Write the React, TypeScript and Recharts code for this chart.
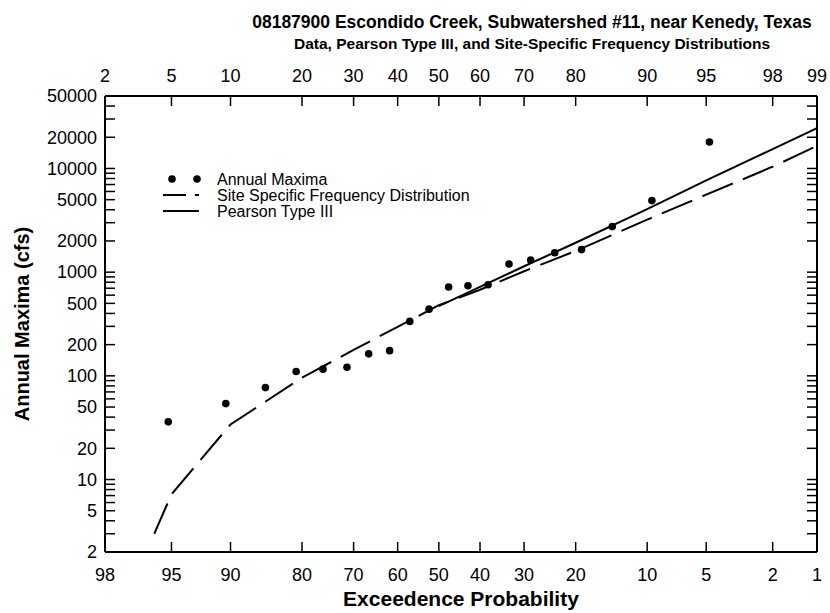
import { ComposedChart, Legend, Line, Scatter, XAxis, YAxis } from "recharts";

// annual maxima, Weibull plotting positions m/(n+1), percent exceedance
const DATA_EXC = [95.2, 90.5, 85.7, 81.0, 76.2, 71.4, 66.7, 61.9, 57.1, 52.4, 47.6, 42.9, 38.1, 33.3, 28.6, 23.8, 19.0, 14.3, 9.5, 4.8];
const DATA_Q = [36, 54, 77, 110, 116, 121, 163, 175, 335, 440, 720, 740, 755, 1200, 1310, 1540, 1650, 2750, 4900, 18000];

// site specific frequency distribution
const SSFD_EXC = [96, 95, 90, 80, 70, 60, 50, 40, 30, 20, 10, 5, 2, 1];
const SSFD_Q = [3, 7.2, 34, 96, 178, 297, 480, 676, 1020, 1600, 3210, 5590, 10400, 16500];

// pearson type III
const P3_EXC = [50, 40, 30, 20, 10, 5, 2, 1];
const P3_Q = [470, 720, 1140, 1920, 4050, 7670, 15400, 24500];

const BOTTOM_TICKS = [98, 95, 90, 80, 70, 60, 50, 40, 30, 20, 10, 5, 2, 1];
const TOP_TICKS = [2, 5, 10, 20, 30, 40, 50, 60, 70, 80, 90, 95, 98, 99];
const Y_TICKS = [
  2, 3, 4, 5, 6, 7, 8, 9, 10, 20, 30, 40, 50, 60, 70, 80, 90, 100, 200, 300, 400, 500, 600, 700, 800, 900,
  1000, 2000, 3000, 4000, 5000, 6000, 7000, 8000, 9000, 10000, 20000, 30000, 40000, 50000,
];
const Y_LABELS = [2, 5, 10, 20, 50, 100, 200, 500, 1000, 2000, 5000, 10000, 20000, 50000];

const FONT = "'Liberation Sans', Arial, Helvetica, sans-serif";
const TICK_LEN = 10;

// inverse standard normal (Acklam) for the probability axis
function normInv(p: number): number {
  const a = [-39.69683028665376, 220.9460984245205, -275.9285104469687, 138.357751867269, -30.66479806614716, 2.506628277459239];
  const b = [-54.47609879822406, 161.5858368580409, -155.6989798598866, 66.80131188771972, -13.28068155288572];
  const c = [-0.007784894002430293, -0.3223964580411365, -2.400758277161838, -2.549732539343734, 4.374664141464968, 2.938163982698783];
  const d = [0.007784695709041462, 0.3224671290700398, 2.445134137142996, 3.754408661907416];
  const lo = 0.02425;
  if (p < lo) {
    const q = Math.sqrt(-2 * Math.log(p));
    return (((((c[0] * q + c[1]) * q + c[2]) * q + c[3]) * q + c[4]) * q + c[5]) / ((((d[0] * q + d[1]) * q + d[2]) * q + d[3]) * q + 1);
  }
  if (p > 1 - lo) {
    const q = Math.sqrt(-2 * Math.log(1 - p));
    return -(((((c[0] * q + c[1]) * q + c[2]) * q + c[3]) * q + c[4]) * q + c[5]) / ((((d[0] * q + d[1]) * q + d[2]) * q + d[3]) * q + 1);
  }
  const q = p - 0.5;
  const r = q * q;
  return ((((((a[0] * r + a[1]) * r + a[2]) * r + a[3]) * r + a[4]) * r + a[5]) * q) / (((((b[0] * r + b[1]) * r + b[2]) * r + b[3]) * r + b[4]) * r + 1);
}
const excToZ = (pct: number) => normInv(1 - pct / 100);

const maxima = DATA_EXC.map((p, i) => ({ z: excToZ(p), q: DATA_Q[i] }));
const ssfd = SSFD_EXC.map((p, i) => ({ z: excToZ(p), q: SSFD_Q[i] }));
const p3 = P3_EXC.map((p, i) => ({ z: excToZ(p), q: P3_Q[i] }));

const X_DOMAIN = [excToZ(98), excToZ(1)];
const bottomZ = BOTTOM_TICKS.map((p) => excToZ(p));
const topZ = TOP_TICKS.map((p) => excToZ(100 - p));

const nearest = (list: number[], zs: number[], v: number) => {
  let best = 0;
  zs.forEach((z, i) => {
    if (Math.abs(z - v) < Math.abs(zs[best] - v)) best = i;
  });
  return list[best];
};

const tickText = { fontSize: 18, fontFamily: FONT, fill: "#000" };

const BottomTick = ({ x, y, payload }: any) => (
  <g>
    <line x1={x} y1={y} x2={x} y2={y - TICK_LEN} stroke="#000" strokeWidth={1.5} />
    <text x={x} y={y + 23} dy="0.35em" textAnchor="middle" {...tickText}>
      {nearest(BOTTOM_TICKS, bottomZ, payload.value)}
    </text>
  </g>
);

const TopTick = ({ x, y, payload }: any) => (
  <g>
    <line x1={x} y1={y} x2={x} y2={y + TICK_LEN} stroke="#000" strokeWidth={1.5} />
    <text x={x} y={y - 20} dy="0.35em" textAnchor="middle" {...tickText}>
      {nearest(TOP_TICKS, topZ, payload.value)}
    </text>
  </g>
);

const LeftTick = ({ x, y, payload }: any) => (
  <g>
    <line x1={x} y1={y} x2={x + TICK_LEN} y2={y} stroke="#000" strokeWidth={1.5} />
    {Y_LABELS.includes(payload.value) && (
      <text x={x - 8} y={y} dy="0.35em" textAnchor="end" {...tickText}>
        {payload.value}
      </text>
    )}
  </g>
);

const RightTick = ({ x, y }: any) => (
  <line x1={x} y1={y} x2={x - TICK_LEN} y2={y} stroke="#000" strokeWidth={1.5} />
);

const Dot = ({ cx, cy }: any) => <circle cx={cx} cy={cy} r={3.8} fill="#000" />;

const LegendBox = () => (
  <svg width={340} height={54} style={{ display: "block" }}>
    <circle cx={22} cy={11} r={3.8} fill="#000" />
    <circle cx={47} cy={11} r={3.8} fill="#000" />
    <line x1={13} y1={27} x2={36} y2={27} stroke="#000" strokeWidth={2} />
    <line x1={45} y1={27} x2={49} y2={27} stroke="#000" strokeWidth={2} />
    <line x1={13} y1={43} x2={49} y2={43} stroke="#000" strokeWidth={2} />
    <g fontFamily={FONT} fontSize={16} fill="#000">
      <text x={67} y={11} dy="0.35em">Annual Maxima</text>
      <text x={67} y={27} dy="0.35em">Site Specific Frequency Distribution</text>
      <text x={67} y={43} dy="0.35em">Pearson Type III</text>
    </g>
  </svg>
);

export default function App() {
  return (
    <div style={{ position: "absolute", left: 0, top: 0, width: 830, height: 613, background: "#fff" }}>
      <ComposedChart width={830} height={613} margin={{ top: 0, right: 0, bottom: 0, left: 0 }}>
        <XAxis
          xAxisId="bottom"
          type="number"
          dataKey="z"
          domain={X_DOMAIN}
          allowDataOverflow
          ticks={bottomZ}
          interval={0}
          height={61}
          tickSize={0}
          tickMargin={0}
          tick={<BottomTick />}
          axisLine={{ stroke: "#000", strokeWidth: 2 }}
          label={{ value: "Exceedence Probability", position: "insideBottom", offset: 7, style: { fontSize: 21, fontWeight: "bold", fontFamily: FONT, fill: "#000" } }}
        />
        <XAxis
          xAxisId="top"
          orientation="top"
          type="number"
          dataKey="z"
          domain={X_DOMAIN}
          allowDataOverflow
          ticks={topZ}
          interval={0}
          height={96}
          tickSize={0}
          tickMargin={0}
          tick={<TopTick />}
          axisLine={{ stroke: "#000", strokeWidth: 2 }}
        />
        <YAxis
          yAxisId="left"
          dataKey="q"
          scale="log"
          domain={[2, 50000]}
          allowDataOverflow
          ticks={Y_TICKS}
          interval={0}
          width={105}
          tickSize={0}
          tickMargin={0}
          tick={<LeftTick />}
          axisLine={{ stroke: "#000", strokeWidth: 2 }}
          label={{ value: "Annual Maxima (cfs)", angle: -90, position: "insideLeft", offset: 22, style: { textAnchor: "middle", fontSize: 20, fontWeight: "bold", fontFamily: FONT, fill: "#000" } }}
        />
        <YAxis
          yAxisId="right"
          orientation="right"
          scale="log"
          domain={[2, 50000]}
          allowDataOverflow
          ticks={Y_TICKS}
          interval={0}
          width={13}
          tickSize={0}
          tickMargin={0}
          tick={<RightTick />}
          axisLine={{ stroke: "#000", strokeWidth: 2 }}
        />
        <Legend
          layout="vertical"
          align="center"
          verticalAlign="middle"
          wrapperStyle={{ position: "absolute", left: 150, top: 168, width: 340, height: 54 }}
          content={<LegendBox />}
        />
        <Line
          data={ssfd}
          xAxisId="bottom"
          yAxisId="left"
          dataKey="q"
          type="linear"
          stroke="#000"
          strokeWidth={2}
          strokeDasharray="33 11"
          dot={false}
          isAnimationActive={false}
        />
        <Line
          data={p3}
          xAxisId="bottom"
          yAxisId="left"
          dataKey="q"
          type="linear"
          stroke="#000"
          strokeWidth={2}
          dot={false}
          isAnimationActive={false}
        />
        <Scatter data={maxima} xAxisId="bottom" yAxisId="left" dataKey="q" shape={<Dot />} isAnimationActive={false} />
      </ComposedChart>
      <svg width={830} height={70} style={{ position: "absolute", left: 0, top: 0, pointerEvents: "none" }}>
        <g fontFamily={FONT} fontWeight="bold" fill="#000" textAnchor="middle">
          <text x={532} y={22} dy="0.35em" fontSize={17.5}>
            08187900 Escondido Creek, Subwatershed #11, near Kenedy, Texas
          </text>
          <text x={532} y={44} dy="0.35em" fontSize={15.5}>
            Data, Pearson Type III, and Site-Specific Frequency Distributions
          </text>
        </g>
      </svg>
    </div>
  );
}
